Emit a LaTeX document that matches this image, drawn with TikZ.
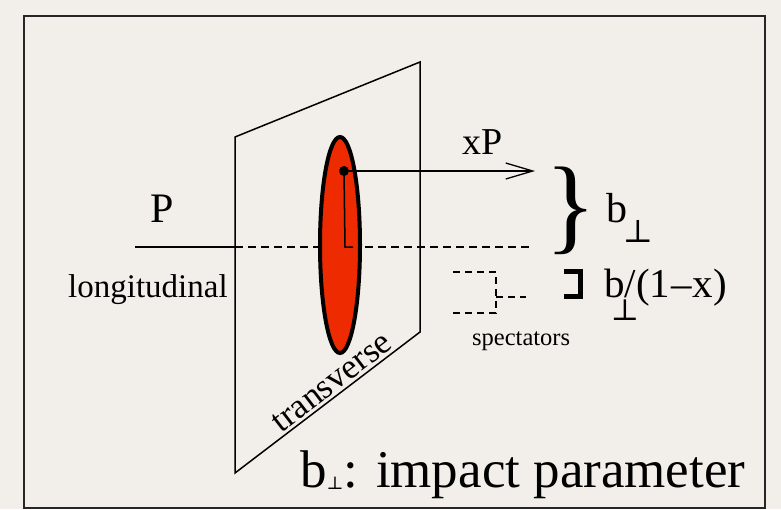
\documentclass[tikz,border=0pt]{standalone}
\usepackage{fontspec}
\setmainfont{Liberation Serif}
\newfontfamily\symf{DejaVu Serif}
\usetikzlibrary{arrows.meta,shapes.geometric}
\definecolor{bg}{HTML}{F2EFEA}
\definecolor{redfill}{HTML}{EE2A00}
\newcommand{\fs}[1]{\fontsize{#1}{#1}\selectfont}
\begin{document}
\begin{tikzpicture}[x=1pt,y=-1pt,
  thinline/.style={line width=1.5pt, black},
  dashline/.style={line width=1.5pt, black, dash pattern=on 8pt off 5pt},
  specline/.style={line width=1.2pt, black, dash pattern=on 7pt off 5pt},
  lbl/.style={inner sep=0pt, anchor=base west}]
\useasboundingbox (0,0) rectangle (781,509);
\fill[bg] (0,0) rectangle (781,509);
\draw[line width=2pt, black!85] (24,16) rectangle (765,507.5);
% plane
\coordinate (tl) at (235,137);
\coordinate (tr) at (420,62);
\coordinate (br) at (420,332);
\coordinate (bl) at (235,473);
\draw[thinline, line join=miter] (tl) -- (tr) -- (br) -- (bl) -- cycle;
% longitudinal line
\coordinate (pstart) at (135,247);
\coordinate (pplane) at (235,247);
\coordinate (dend) at (530,247);
\draw[thinline] (pstart) -- (pplane);
\draw[dashline] (pplane) -- (dend);
% ellipse
\node[draw, line width=4pt, fill=redfill, ellipse, inner sep=0pt, minimum width=40pt, minimum height=216pt] (ell) at (340,245) {};
% parton
\coordinate (dot) at (344,171);
\coordinate (tip) at (535,171);
\coordinate (corner) at (345,247);
\coordinate (stub) at (353,247);
\draw[thinline] (dot) -- (corner) -- (stub);
\draw[line width=1.3pt, -{Straight Barb[length=27pt,width=16pt,line width=1.3pt]}] (dot) -- (tip);
\fill (dot) circle (5);
% spectators
\draw[specline] (453,272) -- (496,272) -- (496,313) -- (453,313);
\draw[specline] (496,297) -- (526,297);
% bracket
\draw[line width=5pt, line cap=butt, line join=miter] (564,271.5) -- (580.5,271.5) -- (580.5,296.5) -- (564,296.5);
% labels
\node[lbl] (P) at (150,222) {\fs{42}P};
\node[lbl] (longi) at (68,297) {\fs{33}longitudinal};
\node[lbl] (xP) at (462,154) {\fs{38}xP};
\node[inner sep=0pt] (brace) at (571,211) {\fs{106}\}};
\node[lbl] (b1) at (606,222) {\fs{42}b};
\node[inner sep=0pt] (perp1) at (638,231) {\fs{32}\symf ⊥};
\node[lbl] (b2) at (604,297) {\fs{41}b/(1\kern1pt\textendash\kern1pt x)};
\node[inner sep=0pt] (perp2) at (625,310) {\fs{30}\symf ⊥};
\node[lbl] (spec) at (472,345) {\fs{24.5}spectators};
\node[inner sep=0pt, anchor=base, rotate=37.5] (trans) at (338,390) {\fs{35}transverse};
\node[lbl] (impact) at (300,487) {\fs{53}b\raisebox{-2pt}{\fs{18}\symf ⊥}: impact parameter};
\end{tikzpicture}
\end{document}
